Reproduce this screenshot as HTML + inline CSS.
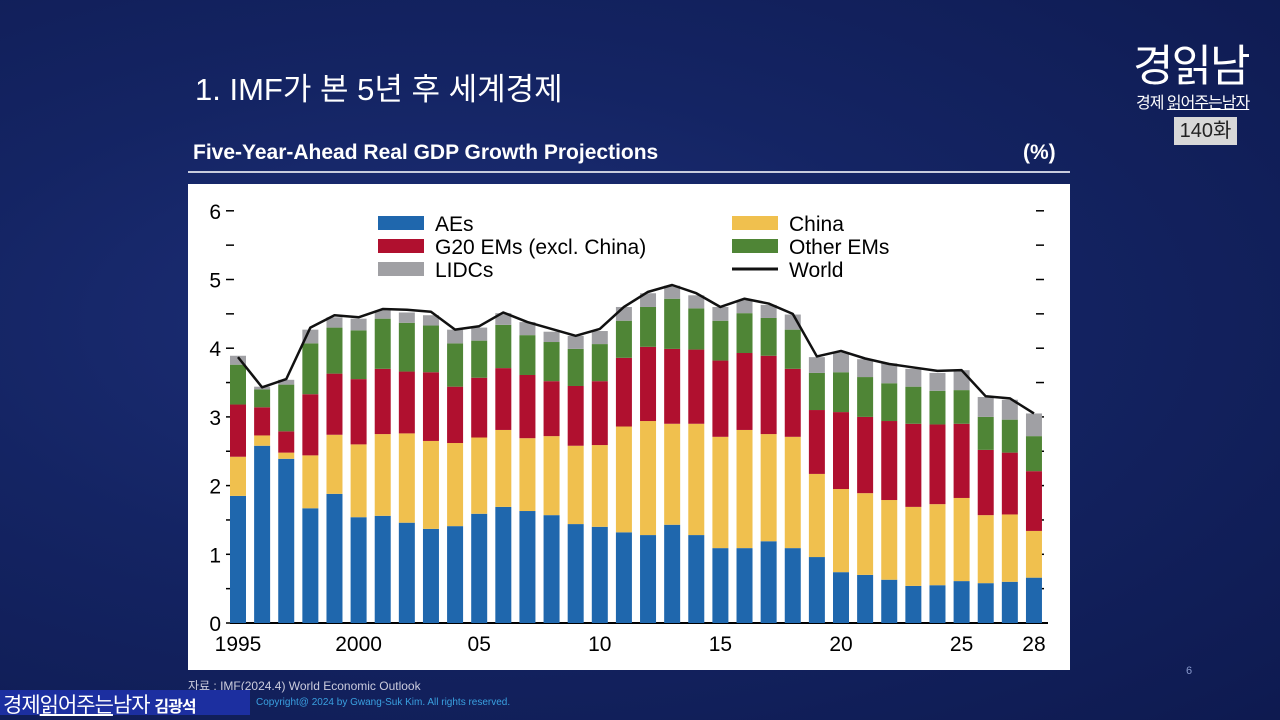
<!DOCTYPE html>
<html><head><meta charset="utf-8">
<style>
body{margin:0;width:1280px;height:720px;overflow:hidden;font-family:"Liberation Sans","Noto Sans CJK KR",sans-serif;}
#slide{position:absolute;left:0;top:0;width:1280px;height:720px;background:radial-gradient(ellipse at 35% 45%,#1d2f78 0%,#142463 45%,#0e1a50 100%);}
.t{position:absolute;color:#fff;white-space:nowrap;}
</style></head><body>
<div id="slide">
<div class="t" style="left:195px;top:64px;font-size:31px;">1. IMF가 본 5년 후 세계경제</div>
<div class="t" style="left:1133px;top:30px;font-size:44px;letter-spacing:-2px;">경읽남</div>
<div class="t" style="left:1136px;top:89px;font-size:16px;letter-spacing:-1px;">경제 <u>읽어주는남자</u></div>
<div class="t" style="left:1174px;top:117px;width:63px;height:28px;background:#d8d8d8;color:#222;font-size:20px;text-align:center;line-height:28px;">140화</div>
<div class="t" style="left:193px;top:141px;font-size:21px;font-weight:bold;">Five-Year-Ahead Real GDP Growth Projections</div>
<div class="t" style="left:1023px;top:141px;font-size:21px;font-weight:bold;">(%)</div>
<div style="position:absolute;left:188px;top:171px;width:882px;height:1.5px;background:#c8ccdd;"></div>
<svg id="chart" style="position:absolute;left:188px;top:184px;background:#fff;" width="882" height="486"></svg>
<div class="t" style="left:188px;top:677px;font-size:12px;color:#ccd;">자료 : IMF(2024.4) World Economic Outlook</div>
<div class="t" style="left:1186px;top:665px;font-size:11px;color:#8899cc;">6</div>
<div style="position:absolute;left:0;top:690px;width:250px;height:25px;background:#1c2fa0;"></div>
<div class="t" style="left:3px;top:689px;font-size:21px;letter-spacing:-1px;">경제<u>읽어주는</u>남자 <b style="font-size:16px;">김광석</b></div>
<div class="t" style="left:256px;top:697px;font-size:10px;color:#3aa0e0;">Copyright@ 2024 by Gwang-Suk Kim. All rights reserved.</div>
</div>
<script>
const years=[1995,1996,1997,1998,1999,2000,2001,2002,2003,2004,2005,2006,2007,2008,2009,2010,2011,2012,2013,2014,2015,2016,2017,2018,2019,2020,2021,2022,2023,2024,2025,2026,2027,2028];
const aes=[1.85,2.58,2.39,1.67,1.88,1.54,1.56,1.46,1.37,1.41,1.59,1.69,1.63,1.57,1.44,1.40,1.32,1.28,1.43,1.28,1.09,1.09,1.19,1.09,0.96,0.74,0.70,0.63,0.54,0.55,0.61,0.58,0.60,0.66];
const china=[0.57,0.15,0.09,0.77,0.86,1.06,1.19,1.30,1.28,1.21,1.11,1.12,1.06,1.15,1.14,1.19,1.54,1.66,1.47,1.62,1.62,1.72,1.56,1.62,1.21,1.21,1.19,1.16,1.15,1.18,1.21,0.99,0.98,0.68];
const g20=[0.76,0.41,0.31,0.89,0.89,0.95,0.95,0.90,1.00,0.82,0.87,0.90,0.92,0.80,0.87,0.93,1.00,1.08,1.09,1.08,1.11,1.12,1.14,0.99,0.93,1.12,1.11,1.15,1.21,1.16,1.08,0.95,0.90,0.87];
const otherEMs=[0.58,0.26,0.68,0.74,0.67,0.71,0.73,0.71,0.68,0.63,0.54,0.63,0.58,0.57,0.54,0.54,0.54,0.58,0.73,0.60,0.58,0.58,0.55,0.57,0.54,0.58,0.58,0.55,0.54,0.49,0.49,0.48,0.48,0.51];
const lidcs=[0.13,0.04,0.07,0.20,0.15,0.17,0.12,0.15,0.15,0.20,0.19,0.17,0.19,0.15,0.19,0.19,0.20,0.20,0.19,0.19,0.20,0.19,0.19,0.22,0.23,0.29,0.26,0.29,0.26,0.26,0.29,0.29,0.29,0.33];
const world=[3.87,3.43,3.55,4.30,4.48,4.45,4.57,4.56,4.53,4.27,4.32,4.52,4.38,4.28,4.18,4.28,4.60,4.82,4.92,4.80,4.60,4.72,4.65,4.50,3.88,3.96,3.85,3.77,3.72,3.67,3.68,3.30,3.27,3.05];
const yTicks=[0,1,2,3,4,5,6];
const xLabelYears=[1995,2000,2005,2010,2015,2020,2025,2028];
const xLabelText=["1995","2000","05","10","15","20","25","28"];
const series=[aes,china,g20,otherEMs,lidcs];
const names=["AEs","China","G20 EMs (excl. China)","Other EMs","LIDCs"];
const colors=["#1f67ad","#f0c04e","#b0102f","#4f8536","#a0a0a4"];
const svg=document.getElementById('chart');
const NS="http://www.w3.org/2000/svg";
function mk(tag,attrs){const e=document.createElementNS(NS,tag);for(const k in attrs)e.setAttribute(k,attrs[k]);svg.appendChild(e);return e;}
const y0=439,unit=68.7;
const ys=v=>y0-v*unit;
const xs=yr=>50+(yr-1995)*24.12;
const bw=16;
let ax=mk('line',{x1:42,x2:860,y1:y0,y2:y0,stroke:'#000','stroke-width':2});


for(let i=0;i<=12;i++){const v=i/2;
 const tl=mk('line',{x1:38,x2:46,y1:ys(v),y2:ys(v),stroke:'#000','stroke-width':1.5});
 
 
 const tr=mk('line',{x1:848,x2:856,y1:ys(v),y2:ys(v),stroke:'#000','stroke-width':1.5});
 
 }
yTicks.forEach(v=>{const t=mk('text',{x:33,y:ys(v)+8,'text-anchor':'end','font-size':21,fill:'#000'});t.textContent=v;
 
 });
xLabelYears.forEach((yr,i)=>{const t=mk('text',{x:xs(yr),y:467,'text-anchor':'middle','font-size':21,fill:'#000'});t.textContent=xLabelText[i];
 
 });
years.forEach((yr,i)=>{let cum=0;series.forEach((s,k)=>{const v=s[i];
 const r=mk('rect',{x:xs(yr)-bw/2,y:ys(cum+v),width:bw,height:v*unit,fill:colors[k]});
 
 
 cum+=v;});});
const pl=mk('polyline',{points:years.map((yr,i)=>xs(yr)+','+ys(world[i])).join(' '),fill:'none',stroke:'#111','stroke-width':2.5,'stroke-linejoin':'round'});


const leg=[[0,190,39],[2,190,62],[4,190,85],[1,544,39],[3,544,62]];
leg.forEach(([k,x,y])=>{const r=mk('rect',{x:x,y:y-7,width:46,height:14,fill:colors[k]});
 
 
 const t=mk('text',{x:x+57,y:y+8,'font-size':21,fill:'#000'});t.textContent=names[k];
 
 });
const wl=mk('line',{x1:544,x2:590,y1:85,y2:85,stroke:'#111','stroke-width':3});


const wt=mk('text',{x:601,y:93,'font-size':21,fill:'#000'});wt.textContent="World";


</script>
</body></html>
